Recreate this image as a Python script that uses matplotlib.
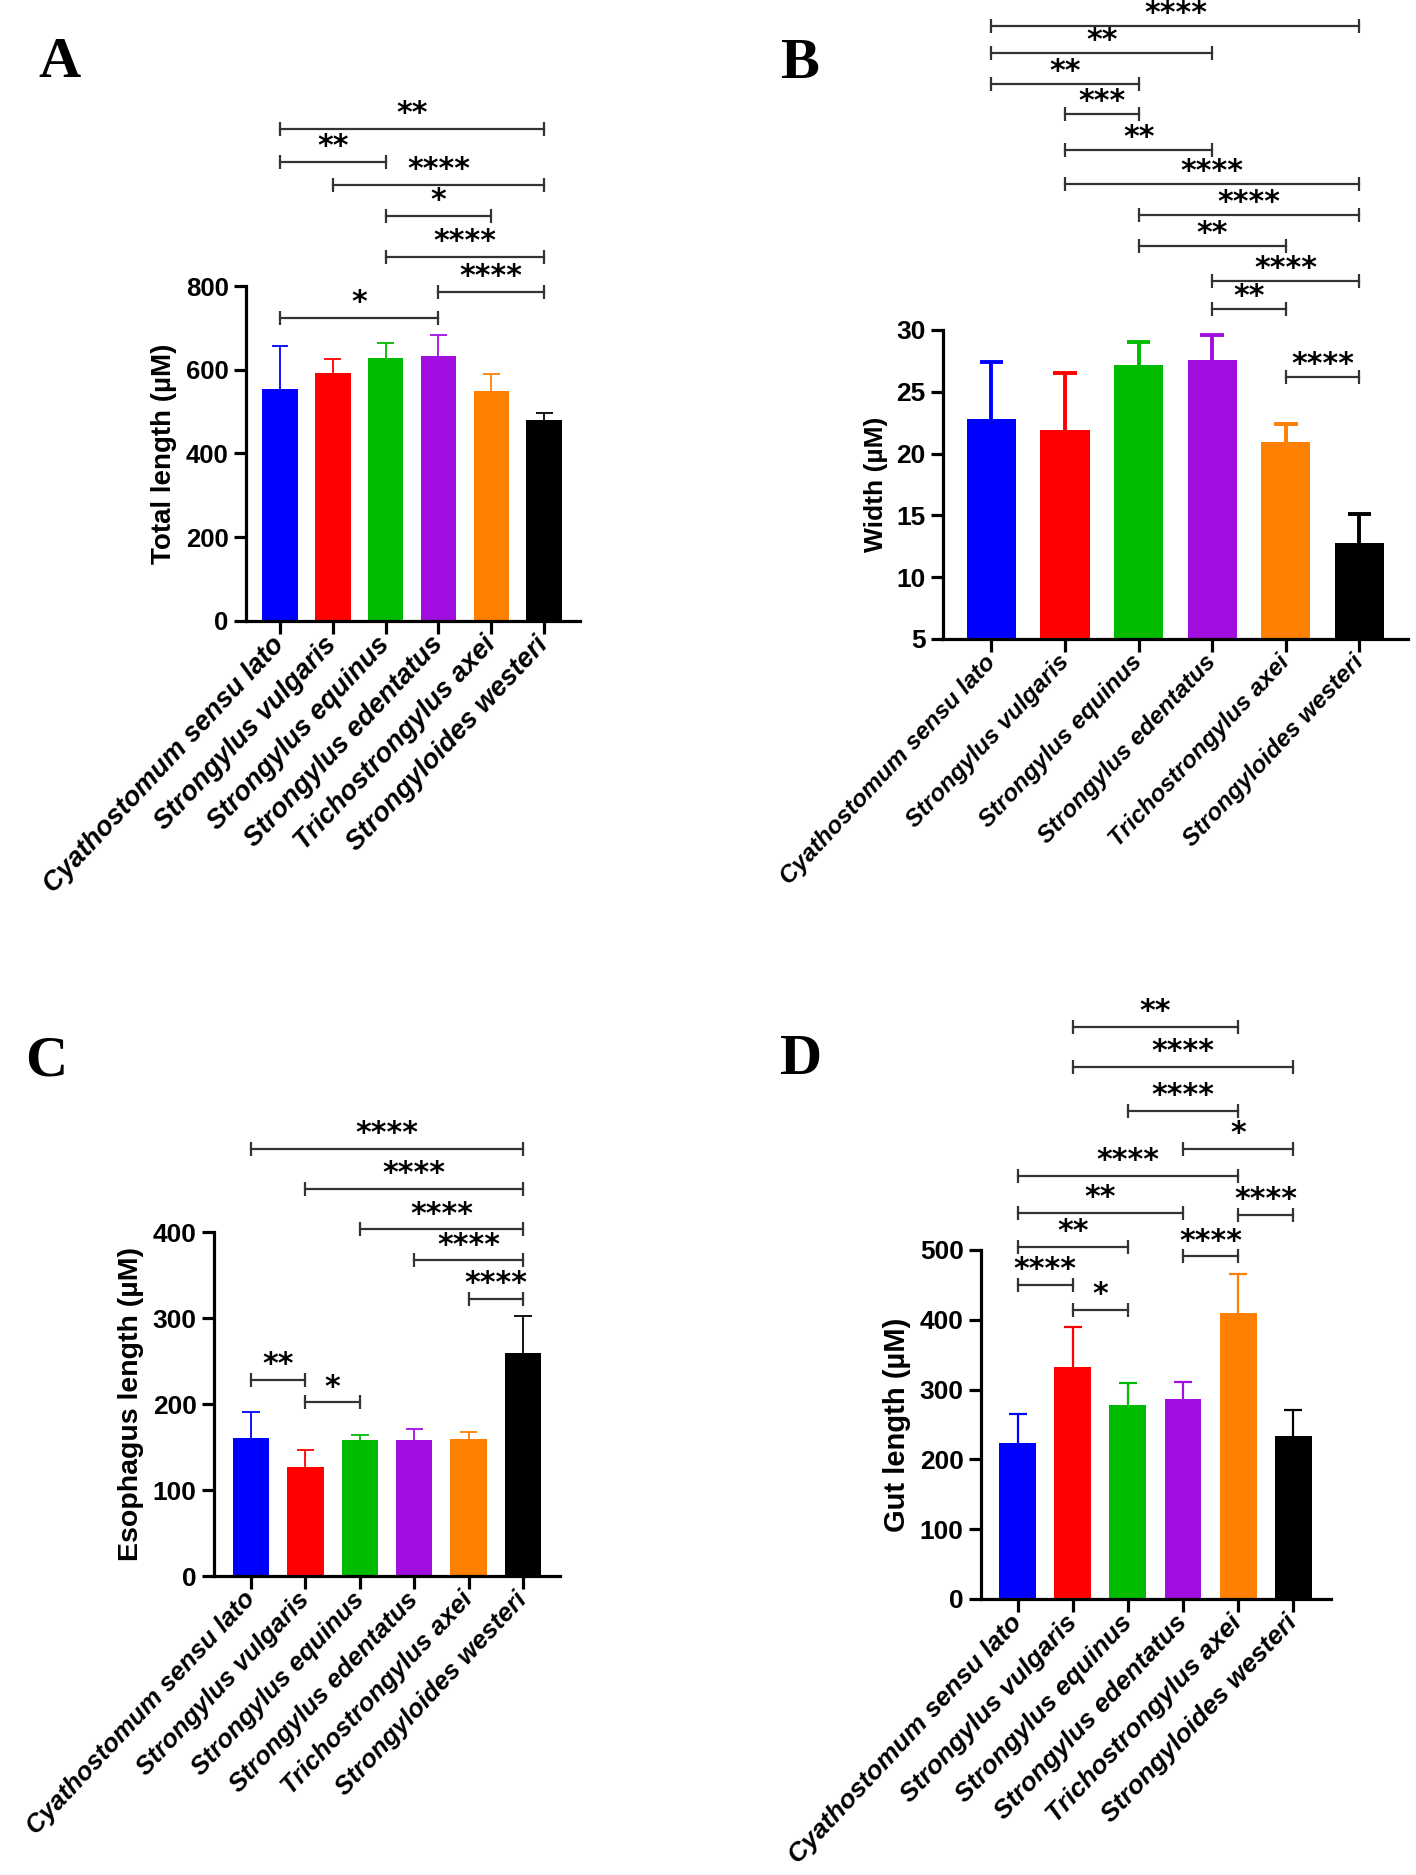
import numpy as np
import matplotlib
matplotlib.use("Agg")
import matplotlib.pyplot as plt

plt.rcParams["font.family"] = ["Liberation Sans", "DejaVu Sans"]

species = [
    "Cyathostomum sensu lato",
    "Strongylus vulgaris",
    "Strongylus equinus",
    "Strongylus edentatus",
    "Trichostrongylus axei",
    "Strongyloides westeri",
]
bar_colors = ["#0000FF", "#FF0000", "#00BB00", "#A30EE0", "#FF8000", "#000000"]

# panel A - total length
total_mean = [555, 592, 627, 632, 549, 480]
total_err = [102, 34, 37, 51, 42, 17]
total_sig = [(0, 5, 1176, "**"), (0, 2, 1097, "**"), (1, 5, 1041, "****"),
             (2, 4, 967, "*"), (2, 5, 869, "****"), (3, 5, 786, "****"),
             (0, 3, 724, "*")]

# panel B - width
width_mean = [22.8, 21.9, 27.2, 27.6, 20.9, 12.8]
width_err = [4.6, 4.6, 1.8, 2.0, 1.5, 2.3]
width_sig = [(0, 5, 54.6, "****"), (0, 3, 52.4, "**"), (0, 2, 49.9, "**"),
             (1, 2, 47.5, "***"), (1, 3, 44.6, "**"), (1, 5, 41.8, "****"),
             (2, 5, 39.3, "****"), (2, 4, 36.8, "**"), (3, 5, 34.0, "****"),
             (3, 4, 31.7, "**"), (4, 5, 26.2, "****")]

# panel C - esophagus length
eso_mean = [160, 127, 158, 158, 159, 259]
eso_err = [31, 20, 6, 13, 8, 43]
eso_sig = [(0, 5, 497, "****"), (1, 5, 450, "****"), (2, 5, 403, "****"),
           (3, 5, 367, "****"), (4, 5, 322, "****"), (0, 1, 228, "**"),
           (1, 2, 202, "*")]

# panel D - gut length
gut_mean = [224, 333, 278, 286, 410, 233]
gut_err = [41, 57, 31, 25, 55, 38]
gut_sig = [(1, 4, 820, "**"), (1, 5, 762, "****"), (2, 4, 699, "****"),
           (3, 5, 645, "*"), (0, 4, 606, "****"), (0, 3, 553, "**"),
           (4, 5, 550, "****"), (0, 2, 505, "**"), (3, 4, 491, "****"),
           (0, 1, 450, "****"), (1, 2, 414, "*")]

W, H = 1416, 1875
fig = plt.figure(figsize=(W / 100, H / 100), dpi=100)


def px_rect(x0, y0, x1, y1):
    return [x0 / W, 1 - y1 / H, (x1 - x0) / W, (y1 - y0) / H]


def draw_panel(rect, xlim, mean, err, ylim, yticks, ylabel, sig,
               tick_fs, label_fs, xlab_fs, err_lw, star_off=11):
    ax = fig.add_axes(rect)
    x = np.arange(len(species))
    mean = np.array(mean)
    top = mean + np.array(err)
    # upper-only error bars, drawn behind the bars
    ax.vlines(x, mean, top, colors=bar_colors, lw=err_lw, zorder=1)
    ax.hlines(top, x - 0.16, x + 0.16, colors=bar_colors, lw=err_lw, zorder=1)
    ax.bar(x, mean - ylim[0], bottom=ylim[0], width=0.67,
           color=bar_colors, zorder=2)
    ax.set_xlim(*xlim)
    ax.set_ylim(*ylim)
    ax.set_yticks(yticks)
    ax.set_xticks(x)
    ax.set_xticklabels(species, rotation=47, ha="right", va="center",
                       rotation_mode="anchor", fontsize=xlab_fs,
                       fontweight="bold", fontstyle="italic")
    for lab in ax.get_yticklabels():
        lab.set_fontsize(tick_fs)
        lab.set_fontweight("bold")
    ax.set_ylabel(ylabel, fontsize=label_fs, fontweight="bold", labelpad=6)
    for s in ["top", "right"]:
        ax.spines[s].set_visible(False)
    for s in ["left", "bottom"]:
        ax.spines[s].set_linewidth(2.3)
    ax.tick_params(axis="both", direction="out", length=9, width=2.3)
    ax.tick_params(axis="x", pad=5)

    for i, j, y, txt in sig:
        ax.plot([i, j], [y, y], color="#333333", lw=1.6, clip_on=False,
                marker="|", markersize=10, markeredgewidth=1.6)
        ax.annotate(txt, xy=((i + j) / 2, y), xytext=(0, star_off),
                    textcoords="offset points", ha="center", va="center",
                    fontsize=21.5, fontweight="bold", family="DejaVu Sans",
                    annotation_clip=False)
    return ax


draw_panel(px_rect(246, 286, 580, 621), (-0.644, 5.68), total_mean, total_err,
           (0, 800), [0, 200, 400, 600, 800], "Total length (µM)", total_sig,
           18.5, 20, 19.5, 1.3)
draw_panel(px_rect(943, 330, 1408, 639), (-0.659, 5.66), width_mean, width_err,
           (5, 30), [5, 10, 15, 20, 25, 30], "Width (µM)", width_sig,
           19, 19, 17.5, 2.8, star_off=9)
draw_panel(px_rect(214, 1232, 560, 1576), (-0.681, 5.68), eso_mean, eso_err,
           (0, 400), [0, 100, 200, 300, 400], "Esophagus length (µM)", eso_sig,
           19, 20.5, 18.5, 1.3)
draw_panel(px_rect(981, 1250, 1331, 1599), (-0.666, 5.686), gut_mean, gut_err,
           (0, 500), [0, 100, 200, 300, 400, 500], "Gut length (µM)", gut_sig,
           19, 21, 19, 1.6)

for letter, px, py in [("A", 38, 77), ("B", 780, 78), ("C", 25, 1075), ("D", 780, 1074)]:
    fig.text(px / W, 1 - py / H, letter, fontsize=42, fontweight="bold",
             family="Liberation Serif", ha="left", va="baseline")

fig.savefig("out.png", dpi=100)
